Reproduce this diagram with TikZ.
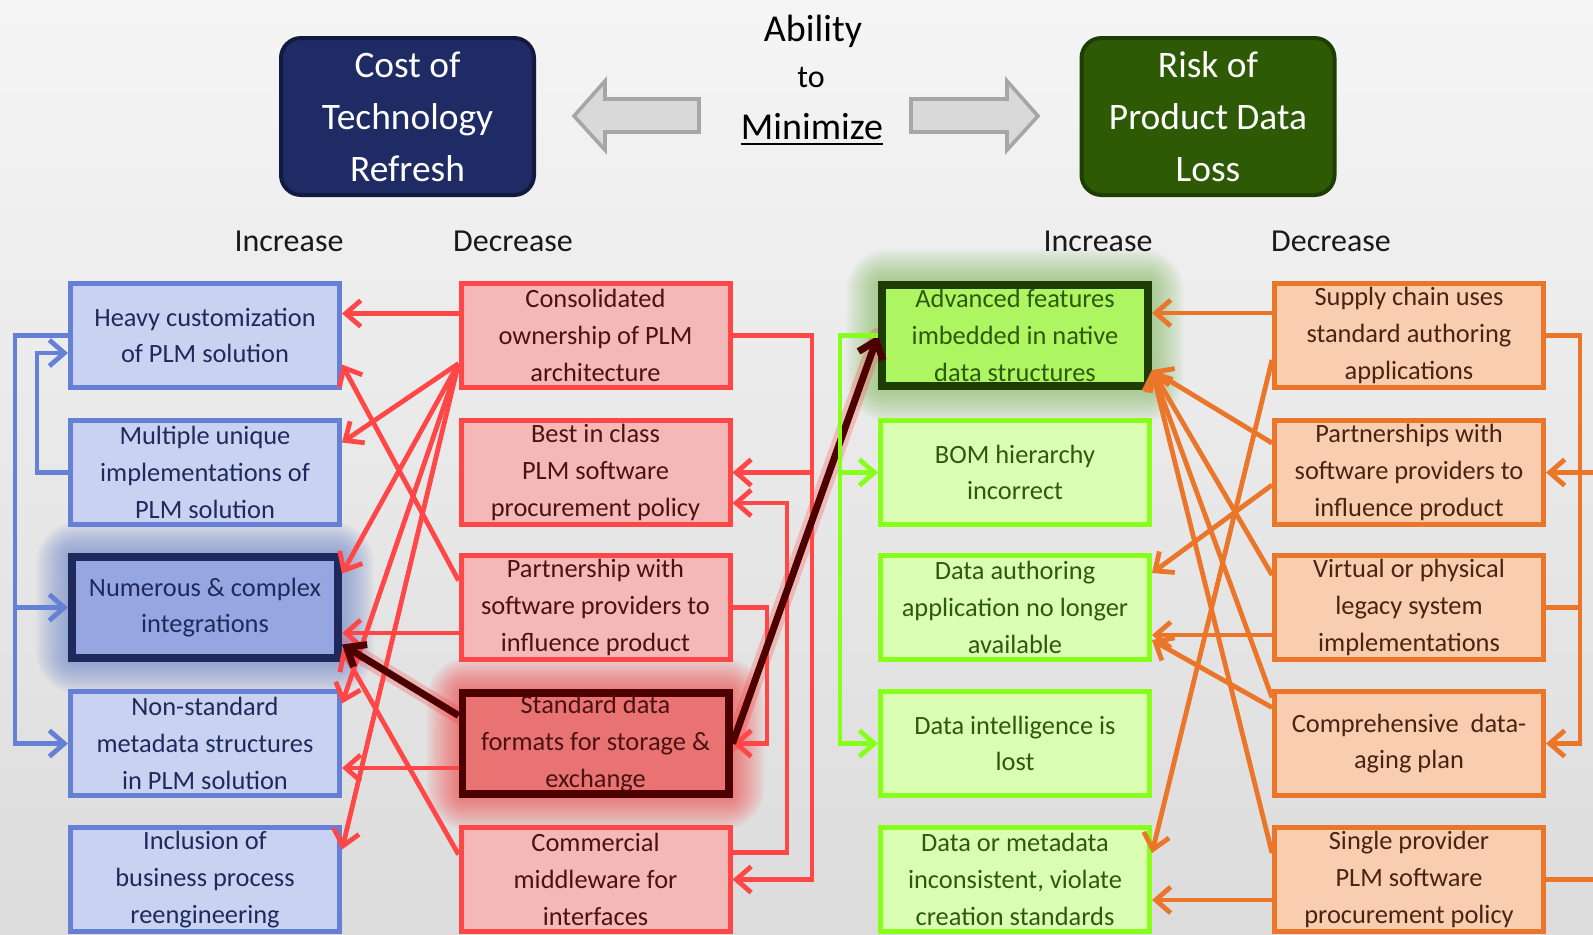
\documentclass[tikz,border=0pt]{standalone}
\usepackage{fontspec}
\setmainfont{Carlito}
\usetikzlibrary{arrows.meta,calc}
\pgfdeclarelayer{bg}
\pgfdeclarelayer{glow}
\pgfsetlayers{bg,glow,main}
\definecolor{bgtop}{HTML}{F5F5F5}
\definecolor{bgbot}{HTML}{DCDCDC}
\definecolor{bfill}{HTML}{C9D3F1}
\definecolor{bline}{HTML}{6680D6}
\definecolor{btext}{HTML}{1F2A5C}
\definecolor{bhfill}{HTML}{95A6E0}
\definecolor{bglow}{HTML}{5B79C9}
\definecolor{rfill}{HTML}{F4B8B8}
\definecolor{rline}{HTML}{FF4747}
\definecolor{rtext}{HTML}{4A1212}
\definecolor{rhfill}{HTML}{E97272}
\definecolor{rhline}{HTML}{4D0000}
\definecolor{rglow}{HTML}{FF3030}
\definecolor{gfill}{HTML}{DAFFB2}
\definecolor{gline}{HTML}{88FF1A}
\definecolor{gtext}{HTML}{2D5A0C}
\definecolor{ghfill}{HTML}{AEF562}
\definecolor{ghline}{HTML}{1E3D06}
\definecolor{gglow}{HTML}{78B850}
\definecolor{ofill}{HTML}{F8CDB0}
\definecolor{oline}{HTML}{EB7529}
\definecolor{otext}{HTML}{4A2412}
\definecolor{costfill}{HTML}{1F2B64}
\definecolor{costline}{HTML}{131A40}
\definecolor{riskfill}{HTML}{2E5A05}
\definecolor{riskline}{HTML}{1E3D02}
\definecolor{arfill}{HTML}{D9D9D9}
\definecolor{arline}{HTML}{A6A6A6}
\definecolor{darkarrow}{HTML}{4D0000}
\newcommand\glowaround[2]{%
  \begin{pgfonlayer}{glow}
  \foreach \i in {1,...,16}{%
    \fill[#2, opacity=0.045, rounded corners=\i*1.2pt+2pt]
      ($(#1.north west)+(-\i*2,-\i*2)$) rectangle ($(#1.south east)+(\i*2,\i*2)$);
  }
  \end{pgfonlayer}}
\begin{document}
\begin{tikzpicture}[x=0.5pt,y=-0.5pt,
  boxbase/.style={draw, line width=2.5pt, minimum width=134.5pt, minimum height=52pt,
    align=center, inner sep=0pt, font=\fontsize{13.2pt}{18.3pt}\selectfont},
  hbox/.style={boxbase, line width=3.8pt, minimum width=133.2pt, minimum height=50.7pt},
  bbox/.style={boxbase, fill=bfill, draw=bline, text=btext},
  bboxh/.style={hbox, fill=bhfill, draw=btext, text=btext},
  rbox/.style={boxbase, fill=rfill, draw=rline, text=rtext},
  rboxh/.style={hbox, fill=rhfill, draw=rhline, text=rtext},
  gbox/.style={boxbase, fill=gfill, draw=gline, text=gtext},
  gboxh/.style={hbox, fill=ghfill, draw=ghline, text=gtext},
  obox/.style={boxbase, fill=ofill, draw=oline, text=otext},
  tbox/.style={line width=2pt, rounded corners=10pt, minimum width=126.5pt, minimum height=78.5pt,
    align=center, inner sep=0pt, text=white, font=\fontsize{18.7pt}{26pt}\selectfont},
  lbl/.style={anchor=base, inner sep=0pt, text=black!90, font=\fontsize{16pt}{18pt}\selectfont},
  arr/.style={-{Straight Barb[length=7.5pt,width=13pt]}},
  bl/.style={draw=bline, line width=2.4pt, arr},
  rl/.style={draw=rline, line width=2.4pt, arr},
  gl/.style={draw=gline, line width=2.4pt, arr},
  ol/.style={draw=oline, line width=2.4pt, arr},
  olp/.style={draw=oline, line width=2.4pt},
  dk/.style={draw=darkarrow, line width=3.5pt, -{Straight Barb[length=8pt,width=13pt]}}
]
\useasboundingbox (0,0) rectangle (1593,934);
\begin{pgfonlayer}{bg}
\shade[top color=bgtop, bottom color=bgbot] (0,0) rectangle (1593,934);
\end{pgfonlayer}

% title boxes
\node[tbox, fill=costfill, draw=costline] (cost) at (407.5,116.5) {Cost of\\Technology\\Refresh};
\node[tbox, fill=riskfill, draw=riskline] (risk) at (1208,116.5) {Risk of\\Product Data\\Loss};

% gray block arrows
\filldraw[fill=arfill, draw=arline, line width=1.8pt, line join=miter]
  (574,116) -- (605,81) -- (605,99) -- (699,99) -- (699,132) -- (605,132) -- (605,150) -- cycle;
\filldraw[fill=arfill, draw=arline, line width=1.8pt, line join=miter]
  (1038,116) -- (1007,81) -- (1007,99) -- (911,99) -- (911,132) -- (1007,132) -- (1007,150) -- cycle;

% centre text
\node[anchor=base, inner sep=0pt, font=\fontsize{19pt}{20pt}\selectfont] (ab) at (813,41) {Ability};
\node[anchor=base, inner sep=0pt, font=\fontsize{16pt}{18pt}\selectfont] (tow) at (811,87) {to};
\node[anchor=base, inner sep=0pt, font=\fontsize{19pt}{20pt}\selectfont] (mn) at (812,139) {Minimize};
\draw[line width=1.3pt] ($(mn.base west)+(0,5)$) -- ($(mn.base east)+(0,5)$);

% column labels
\node[lbl] (inc1) at (289,251) {Increase};
\node[lbl] (dec1) at (513,251) {Decrease};
\node[lbl] (inc2) at (1098,251) {Increase};
\node[lbl] (dec2) at (1331,251) {Decrease};

% blue boxes
\node[bbox] (b1) at (205,335.5) {Heavy customization\\of PLM solution};
\node[bbox] (b2) at (205,472.5) {Multiple unique\\implementations of\\PLM solution};
\node[bboxh] (b3) at (205,607.5) {Numerous \& complex\\integrations};
\node[bbox] (b4) at (205,743.5) {Non-standard\\metadata structures\\in PLM solution};
\node[bbox] (b5) at (205,879.5) {Inclusion of\\business process\\reengineering};
% red boxes
\node[rbox] (r1) at (595.5,335.5) {Consolidated\\ownership of PLM\\architecture};
\node[rbox] (r2) at (595.5,472.5) {Best in class\\PLM software\\procurement policy};
\node[rbox] (r3) at (595.5,607.5) {Partnership with\\software providers to\\influence product};
\node[rboxh] (r4) at (595.5,743.5) {Standard data\\formats for storage \&\\exchange};
\node[rbox] (r5) at (595.5,879.5) {Commercial\\middleware for\\interfaces};
% green boxes
\node[gboxh] (g1) at (1015,335.5) {Advanced features\\imbedded in native\\data structures};
\node[gbox] (g2) at (1015,472.5) {BOM hierarchy\\incorrect};
\node[gbox] (g3) at (1015,607.5) {Data authoring\\application no longer\\available};
\node[gbox] (g4) at (1015,743.5) {Data intelligence is\\lost};
\node[gbox] (g5) at (1015,879.5) {Data or metadata\\inconsistent, violate\\creation standards};
% orange boxes
\node[obox] (o1) at (1409,335.5) {Supply chain uses\\standard authoring\\applications};
\node[obox] (o2) at (1409,472.5) {Partnerships with\\software providers to\\influence product};
\node[obox] (o3) at (1409,607.5) {Virtual or physical\\legacy system\\implementations};
\node[obox] (o4) at (1409,743.5) {Comprehensive~ data-\\aging plan};
\node[obox] (o5) at (1409,879.5) {Single provider\\PLM software\\procurement policy};

% glows
\glowaround{b3}{bglow}
\glowaround{r4}{rglow}
\glowaround{g1}{gglow}
\begin{pgfonlayer}{glow}
\draw[rglow, opacity=0.25, line width=8pt, line cap=round] (r4.east) -- (g1.west);
\draw[rglow, opacity=0.25, line width=8pt, line cap=round] ($(r4.west)+(0,-28)$) -- ($(b3.east)+(0,37)$);
\end{pgfonlayer}

% blue feedback
\coordinate (bL) at (15,0);
\coordinate (bL2) at (37,0);
\coordinate (b1in) at ($(b1.west)+(0,17.5)$);
\draw[bl] (b1.west) -- (bL |- b1.west) -- (bL |- b4.west) -- (b4.west);
\draw[bl] (bL |- b3.west) -- (b3.west);
\draw[bl] (b2.west) -- (bL2 |- b2.west) -- (bL2 |- b1in) -- (b1in);

% red to blue
\coordinate (rF) at ($(r1.west)+(0,28)$);
\draw[rl] ($(r1.west)+(0,-22)$) -- ($(b1.east)+(0,-22)$);
\draw[rl] (rF) -- ($(b2.east)+(0,-30)$);
\draw[rl] (rF) -- ($(b3.east)+(0,-34)$);
\draw[rl] (rF) -- ($(b4.east)+(0,-40)$);
\draw[rl] (rF) -- ($(b5.east)+(0,-30)$);
\draw[rl] ($(r3.west)+(0,-27)$) -- ($(b1.east)+(0,29)$);
\draw[rl] ($(r3.west)+(0,25.5)$) -- ($(b3.east)+(0,25.5)$);
\draw[rl] ($(r4.west)+(0,24.5)$) -- ($(b4.east)+(0,24.5)$);
\draw[rl] ($(r5.west)+(0,-25)$) -- ($(b3.east)+(0,42)$);
\draw[dk] ($(r4.west)+(0,-28)$) -- ($(b3.east)+(0,37)$);

% red feedback
\coordinate (rR1) at (812,0);
\coordinate (rR2) at (787,0);
\coordinate (rR3) at (767,0);
\coordinate (r5o) at ($(r5.east)+(0,-27)$);
\coordinate (r2i) at ($(r2.east)+(0,30.5)$);
\draw[rl] (r1.east) -- (rR1 |- r1.east) -- (rR1 |- r5.east) -- (r5.east);
\draw[rl] (rR1 |- r2.east) -- (r2.east);
\draw[rl] (r5o) -- (rR2 |- r5o) -- (rR2 |- r2i) -- (r2i);
\draw[rl] (r3.east) -- (rR3 |- r3.east) -- (rR3 |- r4.east) -- (r4.east);

% standard -> advanced
\draw[dk] (r4.east) -- (g1.west);

% green feedback
\coordinate (gL) at (840,0);
\draw[gl] (g1.west) -- (gL |- g1.west) -- (gL |- g4.west) -- (g4.west);
\draw[gl] (gL |- g2.west) -- (g2.west);

% orange to green
\coordinate (gA) at ($(g1.east)+(0,34.5)$);
\draw[ol] ($(o1.west)+(0,-22.5)$) -- ($(g1.east)+(0,-22.5)$);
\draw[ol] ($(o1.west)+(0,24.5)$) -- ($(g5.east)+(0,-26.5)$);
\draw[ol] ($(o2.west)+(0,-29.5)$) -- (gA);
\draw[ol] ($(o2.west)+(0,12.5)$) -- ($(g3.east)+(0,-34.5)$);
\draw[ol] ($(o3.west)+(0,-32.5)$) -- (gA);
\draw[ol] ($(o3.west)+(0,27.5)$) -- ($(g3.east)+(0,27.5)$);
\draw[ol] ($(o4.west)+(0,-46)$) -- (gA);
\draw[ol] ($(o4.west)+(0,-36)$) -- ($(g3.east)+(0,32.5)$);
\draw[ol] ($(o5.west)+(0,-26.5)$) -- (gA);
\draw[ol] ($(o5.west)+(0,20.5)$) -- ($(g5.east)+(0,20.5)$);

% orange feedback
\coordinate (oR) at (1580,0);
\coordinate (oR2) at (1640,0);
\draw[ol] (o1.east) -- (oR |- o1.east) -- (oR |- o4.east) -- (o4.east);
\draw[olp] (o3.east) -- (oR |- o3.east);
\draw[ol] (o5.east) -- (oR2 |- o5.east) -- (oR2 |- o2.east) -- (o2.east);
\end{tikzpicture}
\end{document}
